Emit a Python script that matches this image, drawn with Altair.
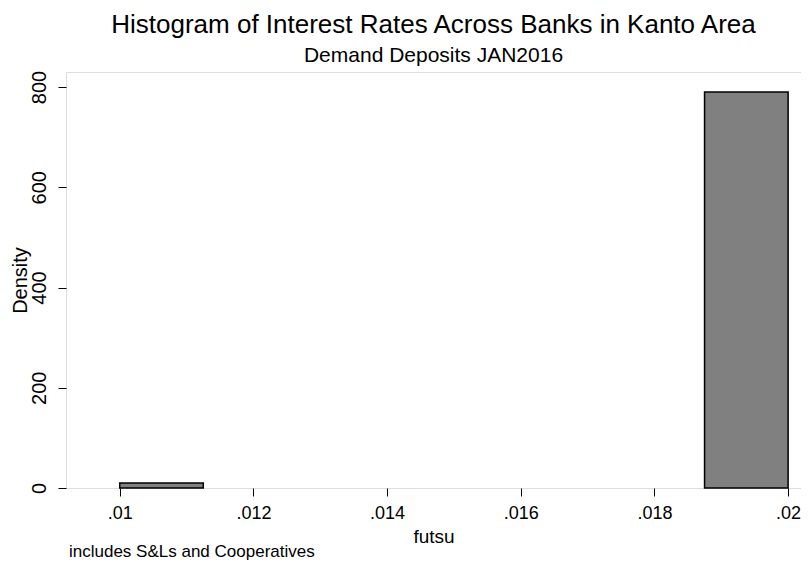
import altair as alt
import pandas as pd

bin_start = [0.01, 0.01875]
bin_end = [0.01125, 0.02]
density = [10, 790]

x_ticks = [0.01, 0.012, 0.014, 0.016, 0.018, 0.02]
y_ticks = [0, 200, 400, 600, 800]

df = pd.DataFrame({"start": bin_start, "end": bin_end, "density": density})

FONT = "Liberation Sans"
W, H = 735, 416

bars = alt.Chart(df).mark_rect(
    fill="#808080", stroke="black", strokeWidth=1.5
).encode(
    x=alt.X("start:Q",
            scale=alt.Scale(domain=[0.009196, 0.020193], nice=False, zero=False),
            axis=alt.Axis(values=x_ticks, title="futsu",
                          labelExpr="substring(format(datum.value, '.3~f'), 1)",
                          grid=False, domain=False, tickSize=8, tickColor="black",
                          labelPadding=8, labelFontSize=18, titleFontSize=19,
                          labelColor="black", titleColor="black",
                          labelFont=FONT, titleFont=FONT, titleFontWeight="normal",
                          titlePadding=5, labelFlush=False)),
    x2="end:Q",
    y=alt.Y("density:Q",
            scale=alt.Scale(domain=[0, 830], nice=False),
            axis=alt.Axis(values=y_ticks, title="Density",
                          grid=False, domain=False, tickSize=8, tickColor="black",
                          labelAngle=270, labelAlign="center", labelBaseline="bottom",
                          labelPadding=9, labelFontSize=20, titleFontSize=20,
                          labelColor="black", titleColor="black",
                          labelFont=FONT, titleFont=FONT, titleFontWeight="normal",
                          titleX=-36, titleBaseline="bottom")),
    y2=alt.Y2(datum=0),
)

caption = alt.Chart(pd.DataFrame({"t": ["includes S&Ls and Cooperatives"]})).mark_text(
    align="left", baseline="alphabetic", fontSize=17, font=FONT, color="black"
).encode(
    text="t:N", x=alt.value(3), y=alt.value(H + 69)
)

chart = alt.layer(bars, caption).properties(
    width=W, height=H,
    autosize=alt.AutoSizeParams(type="none"),
    padding={"left": 58, "top": 64, "right": 0, "bottom": 73},
    title=alt.Title("Histogram of Interest Rates Across Banks in Kanto Area",
                    subtitle="Demand Deposits JAN2016",
                    fontSize=26, subtitleFontSize=21, font=FONT, subtitleFont=FONT,
                    fontWeight="normal", color="black", subtitleColor="black",
                    anchor="middle", offset=4, subtitlePadding=7),
).configure_view(stroke="black", strokeWidth=1.2).configure(background="white")

chart.save("out.html", embed_options={"renderer": "svg", "actions": False})
